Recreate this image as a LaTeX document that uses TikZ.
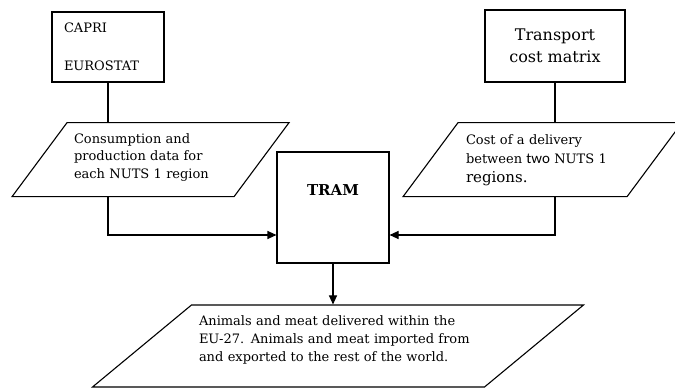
\documentclass[tikz,border=0pt]{standalone}
\usepackage{fontspec}
\setmainfont{DejaVu Serif}
\newfontfamily\altfont{Carlito}
\usetikzlibrary{arrows.meta}

\tikzset{
  datain/.style={rectangle, draw, transform shape, inner sep=0pt},
  source/.style={rectangle, draw, inner sep=0pt}
}

\begin{document}
\begin{tikzpicture}[x=1pt, y=-1pt, line width=1.1pt, >={Triangle[length=9pt,width=8pt]},
    font=\fontsize{13}{17.5}\selectfont]
  \useasboundingbox (0,0) rectangle (675,390);

  % Sources
  \node (capri) [source, minimum width=112pt, minimum height=70pt, text width=88pt, align=left] at (108,47) {CAPRI\\[21pt]EUROSTAT};
  \node (tcm) [source, minimum width=140pt, minimum height=72pt, align=center, font=\fontsize{16}{22}\selectfont] at (555,46) {Transport\\cost matrix};

  % Input data
  \node (cons) [datain, xslant=0.743, minimum width=222pt, minimum height=74pt] at (150.5,159.7) {};
  \node (consText) [text width=153pt, align=left] at (150.5,157.5) {Consumption and\\production data for\\each NUTS 1 region};

  \node (cost) [datain, xslant=0.743, minimum width=224pt, minimum height=74pt] at (542.5,159.7) {};
  \node (costText) [text width=153pt, align=left, font=\fontsize{13}{19}\selectfont] at (542.5,160.5) {Cost of a delivery\\between {\altfont\fontsize{15}{19}\selectfont two} NUTS 1\\{\fontsize{15}{19}\selectfont regions.}};

  % Model
  \node (tram) [source, minimum width=112pt, minimum height=111pt,
    label={[yshift=17.5pt, font=\fontsize{15}{18}\selectfont\bfseries]center:TRAM}] at (333,207.5) {};

  % Output
  \node (out) [datain, xslant=1.207, minimum width=392pt, minimum height=82pt] at (338,346) {};
  \node (outText) [text width=278pt, align=left, font=\fontsize{13}{18}\selectfont] at (338,340) {Animals and meat delivered within the\\EU-27. Animals and meat imported from\\and exported to the rest of the world.};

  % Arrows
  \draw (capri.south) -- (capri.south |- cons.north);
  \draw[->] (capri.south |- cons.south) |- ([yshift=-27.5pt]tram.west);
  \draw (tcm.south) -- (tcm.south |- cost.north);
  \draw[->] (tcm.south |- cost.south) |- ([yshift=-27.5pt]tram.east);
  \draw[->] (tram.south) -- (tram.south |- out.north);
\end{tikzpicture}
\end{document}
